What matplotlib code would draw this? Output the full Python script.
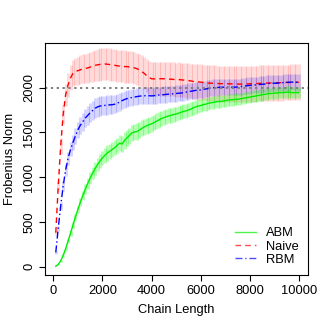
import numpy as np
import matplotlib
matplotlib.use("Agg")
import matplotlib.pyplot as plt

plt.rcParams['font.family'] = ['Liberation Sans', 'DejaVu Sans']

chain = np.arange(100, 10001, 100)

abm = [5, 25, 65, 125, 200, 285, 375, 465, 555, 640,
       720, 795, 865, 930, 990, 1045, 1095, 1140, 1180, 1215,
       1245, 1270, 1290, 1310, 1330, 1355, 1380, 1370, 1410, 1440,
       1465, 1495, 1505, 1510, 1525, 1545, 1560, 1575, 1585, 1595,
       1610, 1625, 1640, 1655, 1665, 1675, 1685, 1690, 1700, 1705,
       1715, 1725, 1735, 1740, 1750, 1760, 1775, 1785, 1795, 1800,
       1810, 1815, 1825, 1830, 1835, 1840, 1845, 1845, 1850, 1855,
       1860, 1865, 1865, 1870, 1870, 1875, 1880, 1885, 1890, 1895,
       1900, 1905, 1910, 1915, 1920, 1925, 1930, 1935, 1935, 1940,
       1940, 1945, 1945, 1945, 1950, 1950, 1945, 1945, 1945, 1945]

naive = [380, 900, 1350, 1700, 1920, 2030, 2110, 2160, 2180, 2190,
         2200, 2210, 2215, 2220, 2230, 2240, 2250, 2255, 2260, 2262,
         2265, 2262, 2258, 2255, 2250, 2245, 2240, 2238, 2236, 2235,
         2232, 2228, 2222, 2212, 2200, 2180, 2160, 2135, 2112, 2100,
         2098, 2098, 2100, 2100, 2100, 2098, 2095, 2095, 2092, 2090,
         2090, 2088, 2085, 2082, 2080, 2075, 2070, 2068, 2065, 2062,
         2058, 2055, 2052, 2050, 2050, 2048, 2046, 2045, 2045, 2045,
         2044, 2043, 2042, 2040, 2040, 2040, 2040, 2040, 2042, 2043,
         2045, 2045, 2046, 2048, 2050, 2050, 2052, 2052, 2053, 2054,
         2055, 2056, 2056, 2057, 2058, 2058, 2059, 2060, 2060, 2060]

rbm = [160, 430, 680, 900, 1080, 1210, 1310, 1390, 1460, 1530,
       1580, 1620, 1660, 1690, 1720, 1745, 1770, 1785, 1795, 1800,
       1802, 1805, 1808, 1810, 1815, 1825, 1840, 1855, 1868, 1878,
       1885, 1890, 1895, 1900, 1905, 1908, 1910, 1910, 1910, 1908,
       1910, 1915, 1918, 1920, 1922, 1925, 1928, 1930, 1932, 1935,
       1938, 1940, 1945, 1950, 1955, 1960, 1965, 1970, 1972, 1975,
       1980, 1985, 1990, 1995, 2000, 2000, 2002, 2005, 2005, 2005,
       2005, 2005, 2005, 2005, 2008, 2010, 2015, 2020, 2022, 2025,
       2028, 2030, 2032, 2035, 2038, 2040, 2045, 2048, 2050, 2050,
       2050, 2052, 2055, 2058, 2060, 2060, 2062, 2062, 2060, 2060]

# half widths of the error bars
abm_err = [2, 5, 10, 15, 20, 25, 30, 35, 38, 42,
           46, 50, 55, 60, 64, 68, 72, 75, 78, 80,
           82, 84, 85, 86, 87, 88, 88, 89, 90, 90,
           90, 90, 90, 90, 90, 90, 90, 90, 90, 90,
           88, 88, 86, 86, 85, 85, 84, 84, 82, 82,
           80, 80, 78, 78, 76, 76, 75, 75, 74, 74,
           72, 72, 70, 70, 70, 68, 68, 68, 66, 66,
           66, 66, 65, 65, 65, 65, 65, 65, 65, 65,
           65, 65, 65, 65, 65, 65, 65, 65, 65, 65,
           65, 65, 65, 65, 65, 65, 65, 65, 65, 65]

naive_err = [30, 60, 90, 110, 125, 135, 140, 145, 150, 155,
             160, 163, 166, 170, 172, 175, 176, 178, 180, 180,
             180, 180, 180, 180, 180, 180, 180, 180, 180, 180,
             180, 180, 180, 180, 180, 180, 180, 180, 182, 184,
             185, 186, 187, 188, 190, 190, 190, 190, 190, 190,
             192, 192, 192, 193, 194, 195, 196, 197, 198, 198,
             198, 198, 198, 198, 200, 200, 200, 200, 200, 200,
             200, 200, 200, 200, 200, 200, 200, 200, 200, 200,
             200, 200, 200, 200, 200, 200, 200, 200, 200, 200,
             200, 200, 200, 200, 200, 200, 200, 200, 200, 200]

rbm_err = [15, 30, 45, 55, 65, 72, 78, 84, 88, 92,
           96, 100, 103, 106, 108, 110, 110, 110, 110, 110,
           110, 108, 106, 104, 102, 100, 100, 98, 96, 95,
           94, 93, 92, 92, 92, 92, 92, 92, 92, 92,
           92, 92, 92, 92, 92, 92, 92, 92, 92, 92,
           92, 92, 92, 92, 92, 92, 92, 92, 92, 92,
           92, 92, 92, 92, 92, 92, 92, 92, 92, 92,
           92, 92, 92, 92, 92, 92, 92, 92, 92, 92,
           92, 92, 92, 92, 92, 92, 92, 92, 92, 92,
           92, 92, 92, 92, 92, 92, 92, 92, 92, 92]

fig = plt.figure(figsize=(3.32, 3.32), dpi=100)
ax = fig.add_axes([0.1355, 0.1717, 0.792, 0.699])

series = [
    (naive, naive_err, '#ff0000', 0.15),
    (rbm, rbm_err, '#0000ff', 0.17),
    (abm, abm_err, '#00ff00', 0.3),
]
for vals, err, col, a in series:
    v = np.array(vals)
    e = np.array(err)
    ax.vlines(chain, v - e, v + e, colors=col, alpha=a, linewidth=2.1)

ax.plot(chain, abm, color='#00ee00', lw=1.0, ls='-', label='ABM')
ax.plot(chain, naive, color='#ff0000', lw=1.0, ls=(0, (4, 3)), label='Naive')
ax.plot(chain, rbm, color='#0000ff', lw=1.0, ls=(0, (5, 2, 1, 2)), label='RBM')

ax.axhline(2000, color='gray', lw=1.4, ls=(0, (1.2, 1.8)))

ax.set_xlim(-340, 10370)
ax.set_ylim(-93, 2500)
ax.set_xticks([0, 2000, 4000, 6000, 8000, 10000])
ax.set_yticks([0, 500, 1000, 1500, 2000])
ax.tick_params(direction='out', length=4, width=0.8, labelsize=9.3, pad=3)
for lab in ax.get_yticklabels():
    lab.set_rotation(90)
    lab.set_va('center')
for s in ax.spines.values():
    s.set_linewidth(0.8)

ax.set_xlabel('Chain Length', fontsize=9.3, labelpad=5)
ax.set_ylabel('Frobenius Norm', fontsize=9.3, labelpad=5)

leg = ax.legend(loc='lower right', frameon=False, fontsize=9.3,
                handlelength=1.6, handletextpad=0.8, labelspacing=0.1,
                borderaxespad=0.3)
for ln in leg.get_lines():
    ln.set_alpha(0.7)

plt.savefig('out.png', dpi=100)
